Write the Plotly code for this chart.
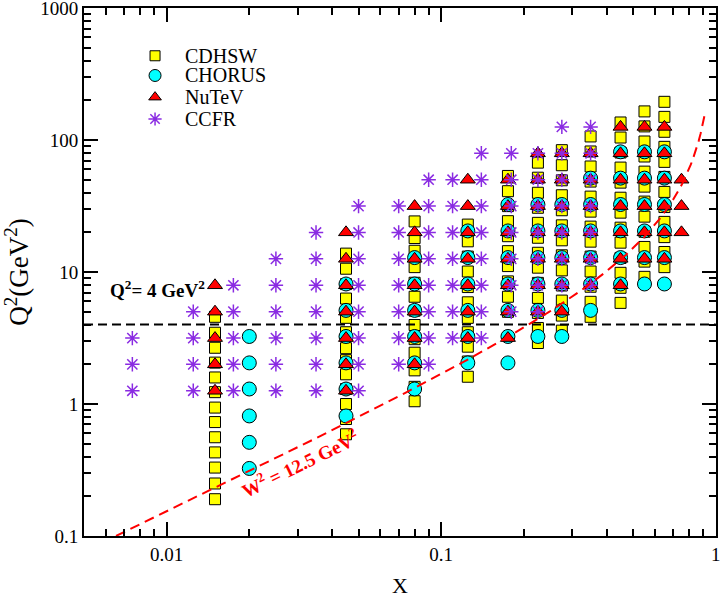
import numpy as np
import plotly.graph_objects as go

# ---------------- data ----------------
cdhsw_x = [0.015, 0.045, 0.08, 0.125, 0.175, 0.225, 0.275, 0.35, 0.45, 0.55, 0.65]
cdhsw_q2 = [
    [0.19, 0.25, 0.33, 0.43, 0.56, 0.73, 0.94, 1.23, 1.59, 2.06, 2.67, 3.47, 4.58],
    [0.59, 0.77, 1.0, 1.3, 1.68, 2.15, 2.65, 3.5, 4.5, 6.3, 8.1, 10.6, 13.8],
    [1.05, 1.35, 1.8, 2.45, 3.1, 3.97, 5.1, 6.5, 8.3, 10.9, 14.5, 18.1, 24.2],
    [1.61, 2.1, 2.72, 3.5, 4.5, 5.9, 7.7, 10.1, 13.1, 17.1, 22.9],
    [5.0, 6.5, 8.5, 11.1, 14.4, 18.7, 24.3, 31.6, 41.0, 53.5],
    [2.9, 3.77, 4.9, 6.37, 8.28, 10.8, 14.0, 18.2, 23.6, 30.7, 39.9, 51.9, 67.5],
    [3.6, 4.68, 6.08, 7.91, 10.3, 13.4, 17.4, 22.6, 29.4, 38.2, 49.6, 64.5, 83.9],
    [4.58, 5.95, 7.74, 10.1, 13.1, 17.0, 22.1, 28.7, 37.3, 48.5, 63.1, 82.0, 106.6],
    [5.84, 7.6, 9.87, 12.8, 16.7, 21.7, 28.2, 36.6, 47.6, 61.9, 80.5, 104.6, 136.0],
    [9.2, 12.0, 15.5, 20.2, 26.3, 34.2, 44.4, 57.7, 75.1, 97.6, 127.0, 165.0],
    [10.9, 14.2, 18.4, 24.0, 31.1, 40.5, 52.6, 68.4, 88.9, 115.6, 150.0, 195.0],
]

chorus_x = [0.02, 0.045, 0.08, 0.125, 0.175, 0.225, 0.275, 0.35, 0.45, 0.55, 0.65]
chorus_q2 = [
    [0.325, 0.5125, 0.8125, 1.3, 2.05, 3.25],
    [0.8125, 1.3, 2.05, 3.25, 5.125, 8.125],
    [1.3, 2.05, 3.25, 5.125, 8.125, 12.875],
    [2.05, 3.25, 5.125, 8.125, 12.875, 20.5],
    [2.05, 3.25, 5.125, 8.125, 12.875, 20.5, 32.5],
    [3.25, 5.125, 8.125, 12.875, 20.5, 32.5],
    [3.25, 5.125, 8.125, 12.875, 20.5, 32.5],
    [5.125, 8.125, 12.875, 20.5, 32.5, 51.5],
    [8.125, 12.875, 20.5, 32.5, 51.5, 81.5],
    [8.125, 12.875, 20.5, 32.5, 51.5, 81.5],
    [8.125, 12.875, 20.5, 32.5, 51.5, 81.5],
]

nutev_x = [0.015, 0.045, 0.08, 0.125, 0.175, 0.225, 0.275, 0.35, 0.45, 0.55, 0.65, 0.75]
nutev_q2 = [
    [1.26, 2.0, 3.16, 5.01, 7.94],
    [1.26, 2.0, 3.16, 5.01, 7.94, 12.6, 20.0],
    [2.0, 3.16, 5.01, 7.94, 12.6, 20.0, 31.6],
    [3.16, 5.01, 7.94, 12.6, 20.0, 31.6, 50.1],
    [3.16, 5.01, 7.94, 12.6, 20.0, 31.6, 50.1],
    [5.01, 7.94, 12.6, 20.0, 31.6, 50.1, 79.4],
    [5.01, 7.94, 12.6, 20.0, 31.6, 50.1, 79.4],
    [7.94, 12.6, 20.0, 31.6, 50.1, 79.4],
    [7.94, 12.6, 20.0, 31.6, 50.1, 79.4, 125.9],
    [12.6, 20.0, 31.6, 50.1, 79.4, 125.9],
    [12.6, 20.0, 31.6, 50.1, 79.4, 125.9],
    [20.0, 31.6, 50.1],
]

ccfr_x = [0.0075, 0.0125, 0.0175, 0.025, 0.035, 0.05, 0.07, 0.09, 0.11, 0.14,
          0.18, 0.225, 0.275, 0.35]
ccfr_q2 = [
    [1.26, 2.0, 3.16],
    [1.26, 2.0, 3.16, 5.01],
    [1.26, 2.0, 3.16, 5.01, 7.94],
    [1.26, 2.0, 3.16, 5.01, 7.94, 12.6],
    [1.26, 2.0, 3.16, 5.01, 7.94, 12.6, 19.95],
    [1.26, 2.0, 3.16, 5.01, 7.94, 12.6, 19.95, 31.6],
    [2.0, 3.16, 5.01, 7.94, 12.6, 19.95, 31.6],
    [2.0, 3.16, 5.01, 7.94, 12.6, 19.95, 31.6, 50.1],
    [3.16, 5.01, 7.94, 12.6, 19.95, 31.6, 50.1],
    [3.16, 5.01, 7.94, 12.6, 19.95, 31.6, 50.1, 79.4],
    [5.01, 7.94, 12.6, 19.95, 31.6, 50.1, 79.4],
    [5.01, 7.94, 12.6, 19.95, 31.6, 50.1, 79.4],
    [7.94, 12.6, 19.95, 31.6, 50.1, 79.4, 125.9],
    [7.94, 12.6, 19.95, 31.6, 50.1, 79.4, 125.9],
]

series_names = ["CDHSW", "CHORUS", "NuTeV", "CCFR"]

q2_cut = 4.0                 # horizontal Q^2 = 4 GeV^2 line
w2_coeff = 15.2              # Q^2 = c * x / (1 - x) curve coefficient
w2_x_range = [0.00654, 0.91]

x_tick_vals = [0.01, 0.1, 1]
x_tick_text = ["0.01", "0.1", "1"]
y_tick_vals = [0.1, 1, 10, 100, 1000]
y_tick_text = ["0.1", "1", "10", "100", "1000"]


def flatten(xs, q2s):
    fx, fy = [], []
    for xv, col in zip(xs, q2s):
        for q in col:
            fx.append(xv)
            fy.append(q)
    return fx, fy


SERIF = "Liberation Serif"
PURPLE = "#8A2BE2"
styles = [
    dict(symbol="square", size=11, color="#FFFF00", line=dict(color="black", width=1)),
    dict(symbol="circle", size=14, color="#00FFFF", line=dict(color="black", width=1)),
    dict(symbol="triangle-up", size=13, color="#FF0000", line=dict(color="black", width=1)),
    dict(symbol="asterisk-open", size=12, color=PURPLE, line=dict(color=PURPLE, width=1.5)),
]
legend_sizes = [10, 12, 11, 11]

fig = go.Figure()
for name, xs, qs, st in zip(series_names,
                            [cdhsw_x, chorus_x, nutev_x, ccfr_x],
                            [cdhsw_q2, chorus_q2, nutev_q2, ccfr_q2], styles):
    x, y = flatten(xs, qs)
    fig.add_trace(go.Scatter(x=x, y=y, mode="markers", name=name, showlegend=False,
                             marker=st))

# horizontal cut line
fig.add_trace(go.Scatter(x=[0.005, 1.0], y=[q2_cut, q2_cut], mode="lines",
                         showlegend=False, hoverinfo="skip",
                         line=dict(color="black", width=2, dash="9px,5px")))
# W^2 curve
wx = np.logspace(np.log10(w2_x_range[0]), np.log10(w2_x_range[1]), 300)
wy = w2_coeff * wx / (1 - wx)
fig.add_trace(go.Scatter(x=wx, y=wy, mode="lines", showlegend=False, hoverinfo="skip",
                         line=dict(color="#FF0000", width=2, dash="10px,6px")))

# hand-placed legend on an overlay axis (0..1 coordinates)
leg_x = 0.1124
leg_ys = [0.9095, 0.8722, 0.8312, 0.7898]
for name, st, sz, ly in zip(series_names, styles, legend_sizes, leg_ys):
    m = dict(st)
    m["size"] = sz
    fig.add_trace(go.Scatter(x=[leg_x], y=[ly], mode="markers", marker=m,
                             showlegend=False, hoverinfo="skip",
                             xaxis="x2", yaxis="y2"))
    fig.add_annotation(xref="paper", yref="paper", x=0.157, y=ly, xanchor="left",
                       yanchor="middle", text=name, showarrow=False,
                       font=dict(family=SERIF, size=20, color="black"))


def minor_vals(lo_exp, hi_exp):
    vals = []
    for e in range(lo_exp, hi_exp):
        for m in range(2, 10):
            vals.append(m * 10.0 ** e)
    return vals

axis_common = dict(type="log", showline=True, linecolor="black", linewidth=2,
                   mirror="allticks", ticks="inside", ticklen=14, tickwidth=1.5,
                   tickcolor="black", showgrid=False, zeroline=False, automargin=False,
                   ticklabeloverflow="allow",
                   tickfont=dict(family=SERIF, size=19, color="black"))

fig.update_xaxes(**axis_common, range=[np.log10(0.005), 0.0008],
                 tickmode="array", tickvals=x_tick_vals, ticktext=x_tick_text,
                 minor=dict(tickmode="array", tickvals=minor_vals(-3, 0), ticks="inside",
                            ticklen=7, tickwidth=1.5, tickcolor="black", showgrid=False),
                 title=dict(text="X", font=dict(family=SERIF, size=22, color="black"),
                            standoff=14))
fig.update_yaxes(**axis_common, range=[-1, 3.001],
                 tickmode="array", tickvals=y_tick_vals, ticktext=y_tick_text,
                 minor=dict(tickmode="array", tickvals=minor_vals(-1, 3), ticks="inside",
                            ticklen=7, tickwidth=1.5, tickcolor="black", showgrid=False),
                 title=dict(text="Q<sup>2</sup>(GeV<sup>2</sup>)",
                            font=dict(family=SERIF, size=27, color="black"), standoff=6))

fig.update_layout(
    xaxis2=dict(overlaying="x", range=[0, 1], visible=False, fixedrange=True),
    yaxis2=dict(overlaying="y", range=[0, 1], visible=False, fixedrange=True),
)

fig.add_annotation(xref="paper", yref="paper", x=0.117, y=0.468,
                   xanchor="center", yanchor="middle",
                   text="<b>Q<sup>2</sup>= 4 GeV<sup>2</sup></b>", showarrow=False,
                   font=dict(family=SERIF, size=19, color="black"))
fig.add_annotation(xref="paper", yref="paper", x=0.342, y=0.138, textangle=-26,
                   xanchor="center", yanchor="middle",
                   text="<b>W<sup>2</sup> = 12.5 GeV<sup>2</sup></b>", showarrow=False,
                   font=dict(family=SERIF, size=19, color="#FF0000"))

fig.update_layout(
    width=724, height=602,
    margin=dict(l=84, r=8, t=8, b=66),
    plot_bgcolor="white", paper_bgcolor="white",
    showlegend=False,
)

fig.write_html("out.html", config={"displayModeBar": False},
               post_script="document.body.style.margin='0';document.body.style.overflow='hidden';")
